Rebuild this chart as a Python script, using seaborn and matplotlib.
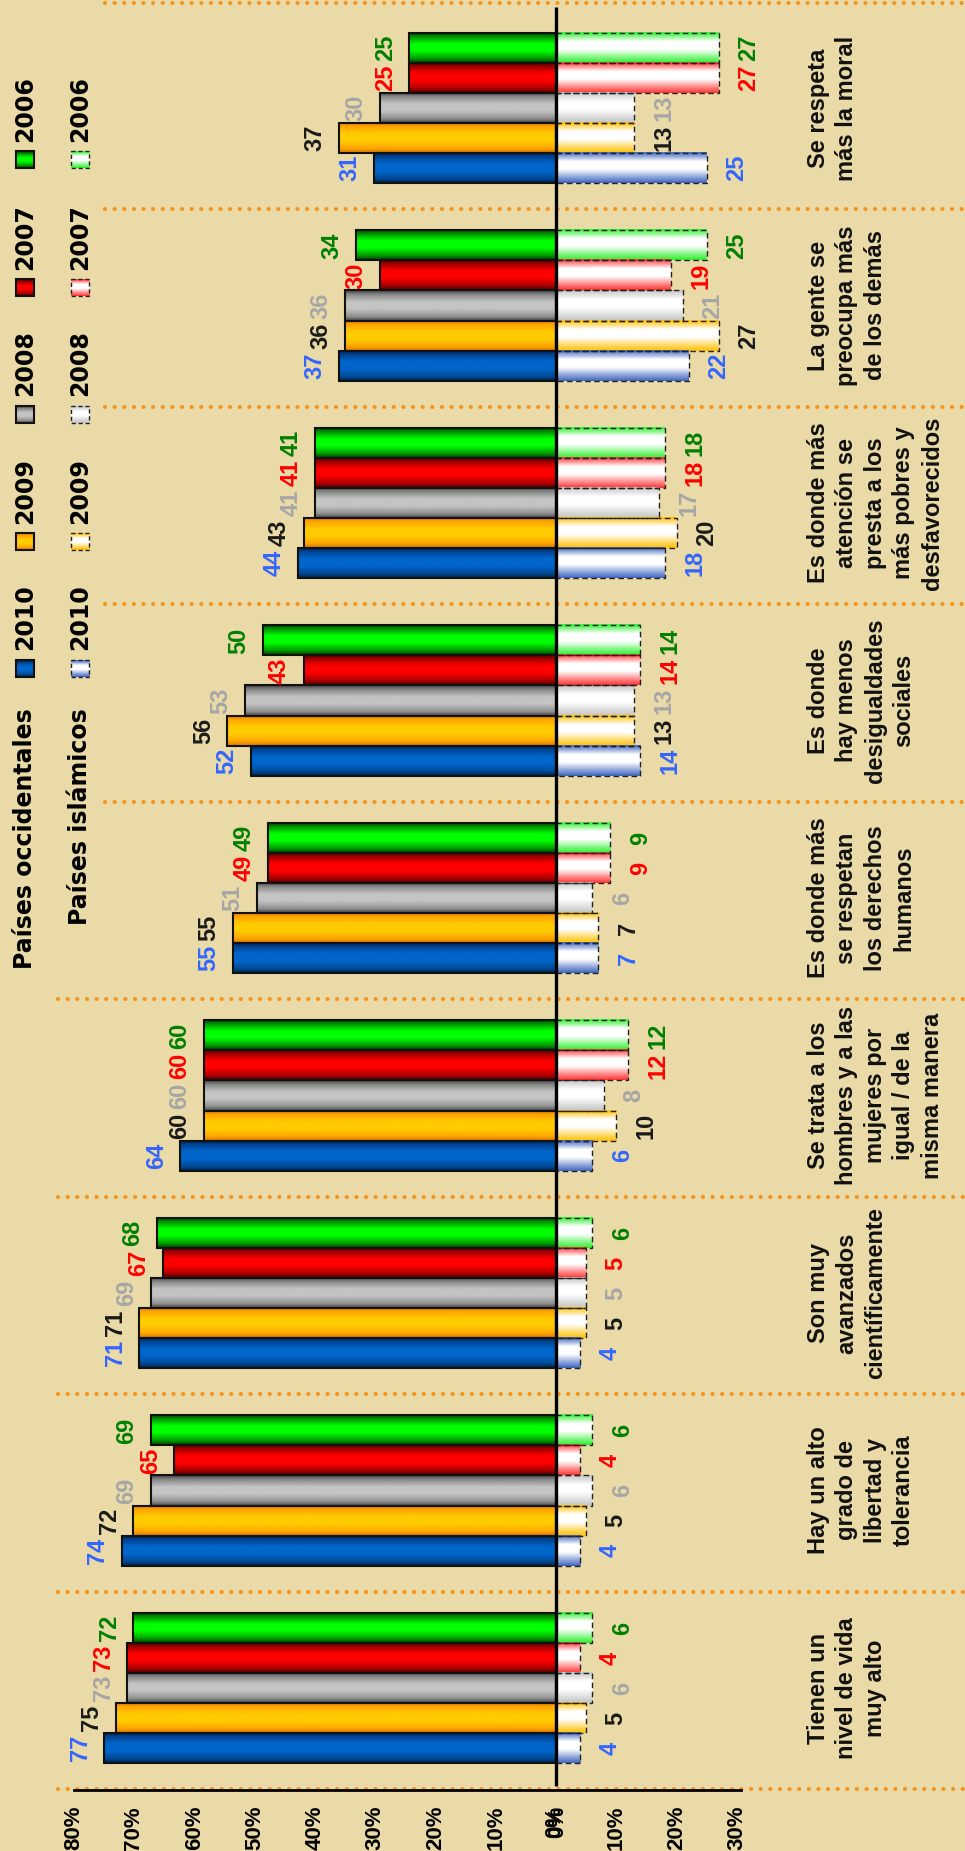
import numpy as np
import pandas as pd
import matplotlib
matplotlib.use("Agg")
import matplotlib.pyplot as plt
import seaborn as sns
from matplotlib.colors import LinearSegmentedColormap
from matplotlib.patches import Rectangle
from matplotlib import font_manager as fm

# ---------------- data ----------------
categories = [
    "Se respeta\nmás la moral",
    "La gente se\npreocupa más\nde los demás",
    "Es donde más\natención se\npresta a los\nmás pobres y\ndesfavorecidos",
    "Es donde\nhay menos\ndesigualdades\nsociales",
    "Es donde más\nse respetan\nlos derechos\nhumanos",
    "Se trata a los\nhombres y a las\nmujeres por\nigual / de la\nmisma manera",
    "Son muy\navanzados\ncientíficamente",
    "Hay un alto\ngrado de\nlibertad y\ntolerancia",
    "Tienen un\nnivel de vida\nmuy alto",
]
years = ["2006", "2007", "2008", "2009", "2010"]

west_2006 = [25, 34, 41, 50, 49, 60, 68, 69, 72]
west_2007 = [25, 30, 41, 43, 49, 60, 67, 65, 73]
west_2008 = [30, 36, 41, 53, 51, 60, 69, 69, 73]
west_2009 = [37, 36, 43, 56, 55, 60, 71, 72, 75]
west_2010 = [31, 37, 44, 52, 55, 64, 71, 74, 77]

isl_2006 = [27, 25, 18, 14, 9, 12, 6, 6, 6]
isl_2007 = [27, 19, 18, 14, 9, 12, 5, 4, 4]
isl_2008 = [13, 21, 17, 13, 6, 8, 5, 6, 6]
isl_2009 = [13, 27, 20, 13, 7, 10, 5, 5, 5]
isl_2010 = [25, 22, 18, 14, 7, 6, 4, 4, 4]

tick_values = [-80, -70, -60, -50, -40, -30, -20, -10, -0.3, 0.3, 10, 20, 30]
tick_labels = ["80%", "70%", "60%", "50%", "40%", "30%", "20%", "10%", "0%", "0%", "10%", "20%", "30%"]

legend_west = "Países occidentales"
legend_isl = "Países islámicos"

# ---------------- fonts ----------------
avail = {f.name for f in fm.fontManager.ttflist}


def pick(*names):
    for n in names:
        if n in avail:
            return n
    return "DejaVu Sans"


F_MAIN = pick("Liberation Sans", "Arimo", "DejaVu Sans")
F_TICK, TICK_FS = F_MAIN, 16
F_LEG = "DejaVu Sans"

# ---------------- styling ----------------
BG = "#E9DAA7"
W, H = 965, 1851
X0PX = 556.0
XSC = 6.03        # px per percent, value axis / islamic bars
XSC_W = 5.87      # px per percent, western bars (own axis in the original)
Y0PX, YSC = 108.0, 197.5

west_grad = {
    "2006": ["#003300", "#008a00", "#00ff00", "#00ff00", "#00a000", "#004000"],
    "2007": ["#400000", "#990000", "#ff0000", "#ff0000", "#b00000", "#500000"],
    "2008": ["#404040", "#858585", "#c4c4c4", "#c4c4c4", "#939393", "#4a4a4a"],
    "2009": ["#d97a00", "#ffa200", "#ffcc00", "#ffcc00", "#ffa600", "#d97a00"],
    "2010": ["#001a40", "#00428f", "#0066cc", "#0066cc", "#004c99", "#00224a"],
}
isl_edge = {"2006": "#2ef02e", "2007": "#ff3535", "2008": "#c4c4c4",
            "2009": "#ffc000", "2010": "#3f66c0"}
label_col = {"2006": "#008000", "2007": "#ff0000", "2008": "#a6a6a6",
             "2009": "#1a1a1a", "2010": "#3366ff"}


def west_cmap(yr):
    return LinearSegmentedColormap.from_list(
        "w" + yr, list(zip([0, 0.13, 0.38, 0.6, 0.85, 1.0], west_grad[yr])))


def isl_cmap(yr):
    c = isl_edge[yr]
    return LinearSegmentedColormap.from_list(
        "i" + yr, list(zip([0, 0.3, 0.55, 1.0], [c, "#ffffff", "#ffffff", c])))


# ---------------- long-form frames ----------------
west_vals = [west_2006, west_2007, west_2008, west_2009, west_2010]
isl_vals = [isl_2006, isl_2007, isl_2008, isl_2009, isl_2010]
rows_w, rows_i = [], []
for yr, wv, iv in zip(years, west_vals, isl_vals):
    for c, a, b in zip(categories, wv, iv):
        rows_w.append({"cat": c, "year": yr, "value": a, "plot": -a})
        rows_i.append({"cat": c, "year": yr, "value": b, "plot": b})
df_w = pd.DataFrame(rows_w)
df_i = pd.DataFrame(rows_i)

# ---------------- figure ----------------
sns.set_style("white")
plt.rcParams["font.family"] = [F_MAIN, "DejaVu Sans"]

fig = plt.figure(figsize=(W / 100, H / 100), dpi=100)
fig.patch.set_facecolor(BG)
ax = fig.add_axes([0, 0, 1, 1])
ax.set_facecolor(BG)
axw = fig.add_axes([0, 0, 1, 1])
axw.patch.set_alpha(0)

pal = {y: west_grad[y][2] for y in years}
sns.barplot(data=df_i, x="plot", y="cat", hue="year", hue_order=years, order=categories,
            orient="h", width=0.76, palette=pal, errorbar=None, legend=False,
            saturation=1, ax=ax)
sns.barplot(data=df_w, x="plot", y="cat", hue="year", hue_order=years, order=categories,
            orient="h", width=0.76, palette=pal, errorbar=None, legend=False,
            saturation=1, ax=axw)

XLIM = (-X0PX / XSC, (W - X0PX) / XSC)
XLIM_W = (-X0PX / XSC_W, (W - X0PX) / XSC_W)
YLIM = ((H - Y0PX) / YSC, -Y0PX / YSC)


def px(xp, yp):
    return (xp - X0PX) / XSC, (yp - Y0PX) / YSC


for a, xl in [(ax, XLIM), (axw, XLIM_W)]:
    a.set_xlim(*xl)
    a.set_ylim(*YLIM)
    a.set_autoscale_on(False)

step = 0.76 / 5


def style_bars(a, west):
    for p in list(a.patches):
        bb = p.get_bbox()
        yc = 0.5 * (bb.ymin + bb.ymax)
        ci = int(round(yc))
        hi = int(round((yc - ci) / step)) + 2
        yr = years[hi]
        g = np.linspace(0, 1, 64).reshape(-1, 1)
        cm = west_cmap(yr) if west else isl_cmap(yr)
        a.imshow(g, cmap=cm, extent=(bb.xmin, bb.xmax, bb.ymax, bb.ymin), aspect="auto",
                 interpolation="bilinear", origin="upper", zorder=2)
        p.set_facecolor("none")
        p.set_zorder(3)
        if west:
            p.set_edgecolor("#111111")
            p.set_linewidth(1.5)
            val = int(round(-bb.xmin))
            a.annotate(str(val), xy=(bb.xmin, yc), xytext=(-24, 0), textcoords="offset pixels",
                       rotation=90, ha="center", va="center", fontsize=17, fontweight="bold",
                       color=label_col[yr], family=[F_MAIN, "DejaVu Sans"], zorder=5)
        else:
            p.set_edgecolor("#222222")
            p.set_linewidth(1.0)
            p.set_linestyle((0, (4, 2.5)))
            val = int(round(bb.xmax))
            a.annotate(str(val), xy=(bb.xmax, yc), xytext=(30, 0), textcoords="offset pixels",
                       rotation=90, ha="center", va="center", fontsize=17, fontweight="bold",
                       color=label_col[yr], family=[F_MAIN, "DejaVu Sans"], zorder=5)


style_bars(ax, False)
style_bars(axw, True)

# category labels
for i, c in enumerate(categories):
    ax.text(px(807, 0)[0], i, c, rotation=90, ha="left", va="center",
            multialignment="center", fontsize=17, fontweight="bold", color="#111111",
            linespacing=1.3, family=[F_MAIN, "DejaVu Sans"], zorder=5)

# dotted orange separators
sep_px = [3] + [209.25 + k * 197.5 for k in range(8)] + [1789.5]
for yp in sep_px:
    xs = 105 if yp < 900 else 58
    x0, y0 = px(xs, yp)
    ax.plot([x0, XLIM[1]], [y0, y0], color="#f7931a", lw=3.0,
            linestyle=(0, (0.01, 2.3)), dash_capstyle="round", zorder=1)

# zero line (on top of the bars)
axw.vlines(0, (7 - Y0PX) / YSC, (1786 - Y0PX) / YSC, color="black", lw=2.4, zorder=6)

# value axis
y_axis = px(0, 1790)[1]
for s in ["top", "left", "right"]:
    ax.spines[s].set_visible(False)
ax.spines["bottom"].set_position(("data", y_axis))
ax.spines["bottom"].set_bounds(-80, 30.6)
ax.spines["bottom"].set_linewidth(2.0)
ax.spines["bottom"].set_color("black")
ax.set_xticks(tick_values)
ax.set_xticklabels(tick_labels, rotation=90, fontsize=TICK_FS, fontweight="bold",
                   family=[F_TICK, "DejaVu Sans"], color="black")
ax.tick_params(axis="x", direction="out", length=6.5, width=1.8, pad=5, colors="black",
               labelsize=TICK_FS)
for t in ax.get_xticklabels():
    t.set_fontweight("bold")
    t.set_fontsize(TICK_FS)
ax.set_yticks([])
ax.set_xlabel("")
ax.set_ylabel("")
axw.axis("off")

# legend (manual, rotated)
ax.text(*px(25, 708), legend_west, rotation=90, ha="center", va="top", fontsize=17,
        fontweight="bold", family=F_LEG, color="black", zorder=5)
ax.text(*px(80, 708), legend_isl, rotation=90, ha="center", va="top", fontsize=17,
        fontweight="bold", family=F_LEG, color="black", zorder=5)
marker_centers = {"2010": 669, "2009": 542, "2008": 415, "2007": 288, "2006": 160}
for yr, yc in marker_centers.items():
    for row_x, west in [(25, True), (80, False)]:
        xa, ya = px(row_x - 9, yc - 8.5)
        xb, yb = px(row_x + 9, yc + 8.5)
        g = np.linspace(0, 1, 32).reshape(-1, 1)
        cm = west_cmap(yr) if west else isl_cmap(yr)
        ax.imshow(g, cmap=cm, extent=(xa, xb, yb, ya), aspect="auto",
                  interpolation="bilinear", origin="upper", zorder=4)
        r = Rectangle((xa, ya), xb - xa, yb - ya, facecolor="none",
                      edgecolor="#111111" if west else "#222222",
                      lw=1.5 if west else 1.0,
                      linestyle="-" if west else (0, (3, 2)), zorder=5)
        ax.add_patch(r)
        ax.text(*px(row_x, yc - 8.5 - 10), yr, rotation=90, ha="center", va="bottom",
                fontsize=17, fontweight="bold", family=F_LEG, color="black", zorder=5)

for a, xl in [(ax, XLIM), (axw, XLIM_W)]:
    a.set_xlim(*xl)
    a.set_ylim(*YLIM)
fig.savefig("out.png", dpi=100, facecolor=BG)
